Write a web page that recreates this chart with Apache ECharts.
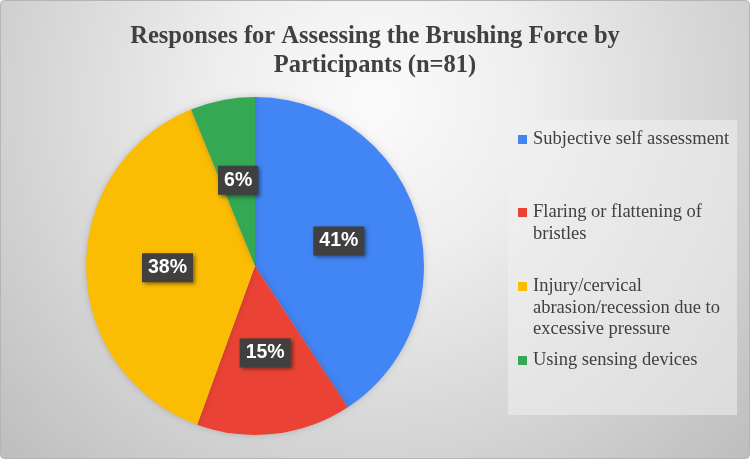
<!DOCTYPE html>
<html>
<head>
<meta charset="utf-8">
<script src="https://cdn.jsdelivr.net/npm/echarts@6/dist/echarts.min.js"></script>
<style>html,body{margin:0;padding:0;}#c{width:750px;height:459px;}</style>
</head>
<body>
<div id="c"></div>
<script>
var categories = ['Subjective self assessment', 'Flaring or flattening of bristles', 'Injury/cervical abrasion/recession due to excessive pressure', 'Using sensing devices'];
var counts = [33, 12, 31, 5];
var colors = ['#4285F4', '#EA4335', '#FBBC04', '#34A853'];
var legendLines = [
  ['Subjective self assessment'],
  ['Flaring or flattening of', 'bristles'],
  ['Injury/cervical', 'abrasion/recession due to', 'excessive pressure'],
  ['Using sensing devices']
];
var legendTops = [125, 198, 272, 346];
var titleText = 'Responses for Assessing the Brushing Force by\nParticipants (n=81)';

var chart = echarts.init(document.getElementById('c'), null, {renderer: 'canvas'});

var rich = {
  g: {width: 6},
  s: {width: 15},
  t: {fontSize: 18.5, fontFamily: 'Liberation Serif', color: '#404040', lineHeight: 21.5}
};
colors.forEach(function (c, i) {
  rich['m' + i] = {width: 9, height: 9, backgroundColor: c};
});

var legends = categories.map(function (name, i) {
  return {
    data: [name],
    orient: 'vertical',
    left: 508,
    top: legendTops[i],
    itemWidth: 0,
    itemHeight: 0,
    itemStyle: {opacity: 0},
    selectedMode: false,
    formatter: function () {
      return legendLines[i].map(function (ln, k) {
        return (k === 0 ? '{m' + i + '| }{g| }' : '{s| }') + '{t|' + ln + '}';
      }).join('\n');
    },
    textStyle: {rich: rich}
  };
});

chart.setOption({
  animation: false,
  color: colors,
  graphic: [
    {
      type: 'rect', z: -10, silent: true,
      shape: {x: 0.5, y: 0.5, width: 749, height: 458, r: 4},
      style: {
        fill: {type: 'radial', x: 0.5, y: 0.22, r: 1.15, colorStops: [
          {offset: 0, color: '#fbfbfb'},
          {offset: 0.3, color: '#eeeeee'},
          {offset: 1, color: '#bcbcbc'}
        ]},
        stroke: '#b5b5b5', lineWidth: 1
      }
    },
    {
      type: 'rect', z: -9, silent: true,
      shape: {x: 508, y: 120, width: 229, height: 295},
      style: {fill: 'rgba(240,240,240,0.55)'}
    }
  ],
  title: {
    text: titleText,
    left: 'center',
    top: 17,
    textStyle: {
      fontFamily: 'Liberation Serif',
      fontWeight: 'bold',
      fontSize: 24.5,
      lineHeight: 29,
      color: '#404040'
    }
  },
  legend: legends,
  series: [{
    type: 'pie',
    center: [255, 266],
    radius: [0, 169],
    startAngle: 90,
    clockwise: true,
    avoidLabelOverlap: false,
    itemStyle: {shadowBlur: 6, shadowColor: 'rgba(0,0,0,0.18)'},
    label: {
      show: true,
      position: 'inside',
      formatter: function (p) { return Math.round(p.percent) + '%'; },
      color: '#ffffff',
      fontFamily: 'Liberation Sans',
      fontWeight: 'bold',
      fontSize: 19.5,
      lineHeight: 21,
      backgroundColor: '#404040',
      padding: [4, 6],
      shadowBlur: 4,
      shadowOffsetX: 2,
      shadowOffsetY: 2,
      shadowColor: 'rgba(0,0,0,0.45)'
    },
    labelLine: {show: false},
    emphasis: {disabled: true},
    data: categories.map(function (n, i) { return {name: n, value: counts[i]}; })
  }]
});
</script>
</body>
</html>
